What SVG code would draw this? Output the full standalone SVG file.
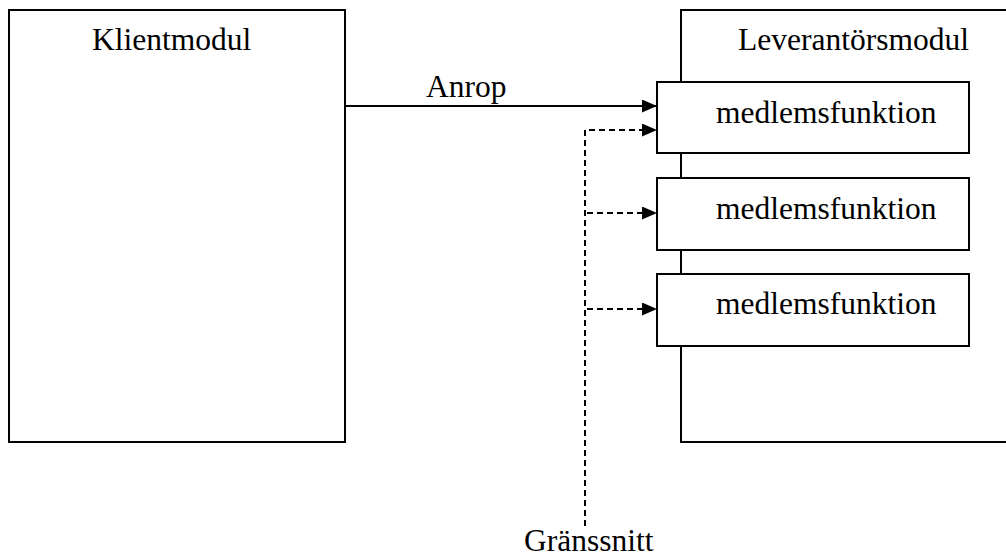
<svg xmlns="http://www.w3.org/2000/svg" width="1006" height="558" viewBox="0 0 1006 558">
  <style>
    .box { fill: #ffffff; stroke: #000000; stroke-width: 2; }
    .lbl { font-family: "Liberation Serif", "Times New Roman", serif; font-size: 31.5px; fill: #000000; }
    .solid { fill: none; stroke: #000000; stroke-width: 2; }
    .dash { fill: none; stroke: #000000; stroke-width: 2; stroke-dasharray: 6 4; }
  </style>
  <defs>
    <marker id="arrow" viewBox="0 0 15 13" refX="15" refY="6.5" markerWidth="15" markerHeight="13" markerUnits="userSpaceOnUse" orient="auto">
      <path d="M0,0 L15,6.5 L0,13 Z" fill="#000000"/>
    </marker>
  </defs>

  <rect width="1006" height="558" fill="#ffffff"/>

  <!-- Client module -->
  <g id="klientmodul">
    <rect class="box" x="9" y="10" width="336" height="432"/>
    <text class="lbl" x="92" y="50">Klientmodul</text>
  </g>

  <!-- Supplier module -->
  <g id="leverantorsmodul">
    <rect class="box" x="681" y="10" width="340" height="432"/>
    <text class="lbl" x="738" y="50">Leverantörsmodul</text>
  </g>

  <!-- Member functions -->
  <g id="medlemsfunktion1">
    <rect class="box" x="657" y="82" width="312" height="71"/>
    <text class="lbl" x="716" y="123">medlemsfunktion</text>
  </g>
  <g id="medlemsfunktion2">
    <rect class="box" x="657" y="178" width="312" height="72"/>
    <text class="lbl" x="716" y="219">medlemsfunktion</text>
  </g>
  <g id="medlemsfunktion3">
    <rect class="box" x="657" y="274" width="312" height="72"/>
    <text class="lbl" x="716" y="314">medlemsfunktion</text>
  </g>

  <!-- Interface label -->
  <g id="granssnitt">
    <text class="lbl" x="524" y="551">Gränssnitt</text>
  </g>

  <!-- Connectors -->
  <g id="connectors">
    <path class="solid" d="M345,106 L657,106" marker-end="url(#arrow)"/>
    <text class="lbl" x="426" y="97">Anrop</text>
    <path class="dash" d="M585,526 L585,130 L657,130" marker-end="url(#arrow)"/>
    <path class="dash" d="M587,213 L657,213" marker-end="url(#arrow)"/>
    <path class="dash" d="M587,309 L657,309" marker-end="url(#arrow)"/>
  </g>
</svg>
